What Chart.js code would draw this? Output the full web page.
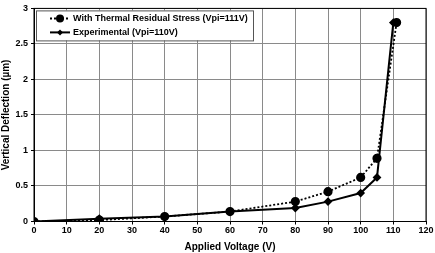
<!DOCTYPE html>
<html>
<head>
<meta charset="utf-8">
<script src="https://cdn.jsdelivr.net/npm/chart.js@4"></script>
<style>
  html, body { margin: 0; padding: 0; background: #fff; }
  #wrap { width: 435px; height: 253px; position: relative; }
</style>
</head>
<body>
<div id="wrap"><canvas id="c"></canvas></div>
<script>
// Data
var thermalVolts = [0, 20, 40, 60, 80, 90, 100, 105, 111];
var thermalDefl  = [0, 0.02, 0.07, 0.14, 0.28, 0.42, 0.62, 0.89, 2.8];
var expVolts = [0, 20, 40, 60, 80, 90, 100, 105, 110];
var expDefl  = [0, 0.04, 0.07, 0.14, 0.19, 0.28, 0.40, 0.62, 2.8];
var seriesLabels = ['With Thermal Residual Stress (Vpi=111V)', 'Experimental (Vpi=110V)'];

function toPoints(xs, ys) {
    return xs.map(function(x, i) { return { x: x, y: ys[i] }; });
}

var FONT = 'Liberation Sans, Arial, sans-serif';

// Legend drawn inside the plot area with a box, like the original
var boxLegend = {
    id: 'boxLegend',
    afterDraw: function(chart) {
        var c = chart.ctx, a = chart.chartArea;
        var x0 = a.left + 2, y0 = a.top + 2, w = 217, h = 30;
        c.save();
        c.fillStyle = '#fff';
        c.fillRect(x0, y0, w, h);
        c.strokeStyle = '#555';
        c.lineWidth = 1;
        c.strokeRect(x0 + 0.5, y0 + 0.5, w, h);
        c.font = 'bold 9px ' + FONT;
        c.textBaseline = 'middle';
        c.fillStyle = '#000';
        chart.data.datasets.forEach(function(ds, i) {
            var yy = y0 + 8 + i * 14;
            var lx = x0 + 14;
            c.strokeStyle = '#000';
            c.lineWidth = 2;
            c.setLineDash(ds.borderDash || []);
            c.beginPath();
            c.moveTo(lx, yy);
            c.lineTo(lx + 20, yy);
            c.stroke();
            c.setLineDash([]);
            c.fillStyle = '#000';
            c.beginPath();
            if (ds.pointStyle === 'rectRot') {
                c.moveTo(lx + 10, yy - 3);
                c.lineTo(lx + 13, yy);
                c.lineTo(lx + 10, yy + 3);
                c.lineTo(lx + 7, yy);
                c.closePath();
            } else {
                c.arc(lx + 10, yy, 4, 0, Math.PI * 2);
            }
            c.fill();
            c.fillText(ds.label, lx + 23, yy + 0.5);
        });
        c.restore();
    }
};

new Chart(document.getElementById('c'), {
    type: 'scatter',
    data: {
        datasets: [
            {
                label: seriesLabels[0],
                data: toPoints(thermalVolts, thermalDefl),
                showLine: true,
                borderColor: '#000',
                backgroundColor: '#000',
                borderWidth: 1.8,
                borderDash: [2, 2],
                pointStyle: 'circle',
                pointRadius: 3.7,
                order: 2
            },
            {
                label: seriesLabels[1],
                data: toPoints(expVolts, expDefl),
                showLine: true,
                borderColor: '#000',
                backgroundColor: '#000',
                borderWidth: 2,
                pointStyle: 'rectRot',
                pointRadius: 3,
                order: 1
            }
        ]
    },
    options: {
        responsive: true,
        maintainAspectRatio: false,
        animation: false,
        layout: { padding: { top: 5, right: 9, left: 0, bottom: 0 } },
        plugins: {
            legend: { display: false },
            tooltip: { enabled: false }
        },
        scales: {
            x: {
                type: 'linear',
                min: 0,
                max: 120,
                ticks: {
                    stepSize: 10,
                    color: '#000',
                    font: { family: FONT, size: 9, weight: 'bold' },
                    padding: 1,
                    maxRotation: 0
                },
                grid: { color: '#8a8a8a', lineWidth: 1, tickLength: 3, tickColor: '#000' },
                border: { color: '#000', width: 1 },
                title: {
                    display: true,
                    text: 'Applied Voltage (V)',
                    color: '#000',
                    font: { family: FONT, size: 10, weight: 'bold' },
                    padding: { top: 0, bottom: 0 }
                },
                afterFit: function(s) { s.height = 31.5; }
            },
            y: {
                min: 0,
                max: 3,
                ticks: {
                    stepSize: 0.5,
                    color: '#000',
                    font: { family: FONT, size: 9, weight: 'bold' },
                    padding: 3,
                    callback: function(v) { return String(v); }
                },
                grid: { color: '#8a8a8a', lineWidth: 1, tickLength: 3, tickColor: '#000' },
                border: { color: '#000', width: 1 },
                title: {
                    display: true,
                    text: 'Vertical Deflection (µm)',
                    color: '#000',
                    font: { family: FONT, size: 10, weight: 'bold' },
                    padding: { top: 0, bottom: 0 }
                },
                afterFit: function(s) { s.width = 34; }
            }
        }
    },
    plugins: [boxLegend, {
        id: 'frame',
        afterDatasetsDraw: function(chart) {
            var c = chart.ctx, a = chart.chartArea;
            c.save();
            c.strokeStyle = '#000';
            c.lineWidth = 1;
            c.strokeRect(a.left, a.top, a.right - a.left, a.bottom - a.top);
            c.restore();
        }
    }]
});
</script>
</body>
</html>
